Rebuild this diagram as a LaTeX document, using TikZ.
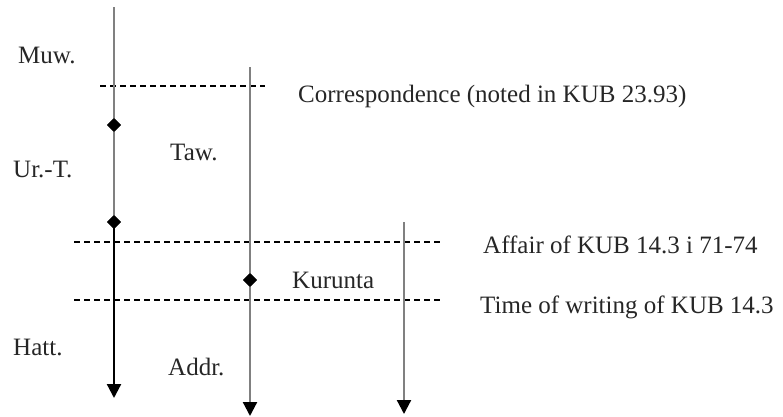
\documentclass[tikz,border=0pt]{standalone}
\usepackage{fontspec}
\setmainfont{Liberation Serif}
\usetikzlibrary{arrows.meta,shapes.geometric}
\begin{document}
\begin{tikzpicture}[x=1pt,y=-1pt,
  lbl/.style={anchor=base west,inner sep=0pt,text=black!85,font=\fontsize{25}{30}\selectfont},
  life/.style={line width=2.2pt,draw=black!50},
  lifeb/.style={line width=2.2pt,draw=black},
  tip/.style={-{Triangle[width=14pt,length=14pt,color=black]}},
  dmd/.style={diamond,fill=black,inner sep=0pt,minimum width=14pt,minimum height=14pt},
  sep/.style={dash pattern=on 6pt off 4pt,line width=1.4pt,draw=black}]
\useasboundingbox (0,0) rectangle (783,416);
% lifeline coordinates
\coordinate (a0) at (114,7);
\node[dmd] (d1) at (114,125) {};
\node[dmd] (d2) at (114,222) {};
\coordinate (a1) at (114,398);
\coordinate (b0) at (250,67);
\node[dmd] (d3) at (250,280) {};
\coordinate (b1) at (250,416);
\coordinate (c0) at (404,222);
\coordinate (c1) at (404,414);
% separators
\coordinate (s1l) at (100,86); \coordinate (s1r) at (265,86);
\coordinate (s2l) at (74,242); \coordinate (s2r) at (443,242);
\coordinate (s3l) at (74,300); \coordinate (s3r) at (443,300);
\draw[sep] (s1l) -- (s1r);
\draw[sep] (s2l) -- (s2r);
\draw[sep] (s3l) -- (s3r);
% lifelines
\draw[life] (a0) -- (d1.center);
\draw[life] (d1.center) -- (d2.center);
\draw[lifeb,tip] (d2.center) -- (a1);
\draw[life] (b0) -- (d3.center);
\draw[life,tip] (d3.center) -- (b1);
\draw[life,tip] (c0) -- (c1);
\node[dmd] at (d1) {};
\node[dmd] at (d2) {};
\node[dmd] at (d3) {};
% labels
\node[lbl] (muw) at (18,63) {Muw.};
\node[lbl] (urt) at (13,177) {Ur.-T.};
\node[lbl] (taw) at (170,160) {Taw.};
\node[lbl] (hatt) at (13,355) {Hatt.};
\node[lbl] (addr) at (168,375) {Addr.};
\node[lbl] (kur) at (292,288) {Kurunta};
\node[lbl] (corr) at (298,102) {Correspondence (noted in KUB 23.93)};
\node[lbl] (aff) at (483,253) {Affair of KUB 14.3 i 71-74};
\node[lbl] (time) at (480,313) {Time of writing of KUB 14.3};
\end{tikzpicture}
\end{document}
